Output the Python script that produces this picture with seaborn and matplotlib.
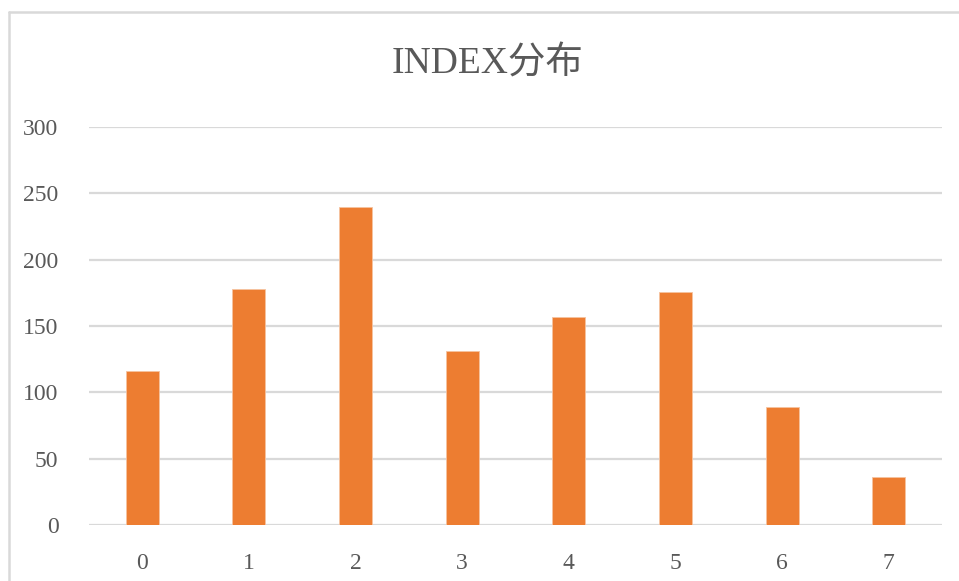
import matplotlib
matplotlib.use("Agg")
import matplotlib.pyplot as plt
from matplotlib.lines import Line2D
import seaborn as sns
import pandas as pd

categories = ["0", "1", "2", "3", "4", "5", "6", "7"]
counts = [116, 178, 240, 131, 157, 176, 89, 36]
y_ticks = [0, 50, 100, 150, 200, 250, 300]
title_text = "INDEX分布"

sns.set_theme(style="white")
plt.rcParams["font.family"] = ["Liberation Serif", "Noto Sans CJK SC", "DejaVu Sans"]

text_gray = "#595959"
grid_gray = "#d9d9d9"
bar_orange = "#ED7D31"

df = pd.DataFrame({"index": categories, "count": counts})

fig = plt.figure(figsize=(9.59, 5.81), dpi=100)
ax = fig.add_axes([89 / 959, 1 - 525 / 581, (942 - 89) / 959, (525 - 127) / 581])

sns.barplot(data=df, x="index", y="count", color=bar_orange, saturation=1,
            width=0.31, edgecolor="#F6C3A0", linewidth=0.6, ax=ax, zorder=3)

ax.set_ylim(0, 300)
ax.set_xlim(-0.5, len(categories) - 0.5)
ax.set_yticks(y_ticks)
ax.set_yticklabels([str(t) for t in y_ticks])
for t in y_ticks:
    ax.axhline(t, color=grid_gray, linewidth=1.6, zorder=1)

for s in ax.spines.values():
    s.set_visible(False)
ax.tick_params(axis="both", length=0, labelsize=17, labelcolor=text_gray)
ax.tick_params(axis="y", pad=22)
ax.tick_params(axis="x", pad=20)
ax.set_xlabel("")
ax.set_ylabel("")

fig.text(488 / 959, 1 - 64 / 581, title_text, ha="center", va="center",
         fontsize=27, color=text_gray)

# chart area outline (top and left edges)
fig.add_artist(Line2D([9 / 959, 1.0], [1 - 12 / 581, 1 - 12 / 581],
                      transform=fig.transFigure, color=grid_gray, linewidth=1.8))
fig.add_artist(Line2D([9 / 959, 9 / 959], [0.0, 1 - 12 / 581],
                      transform=fig.transFigure, color=grid_gray, linewidth=1.8))

fig.savefig("out.png", dpi=100, facecolor="white")
